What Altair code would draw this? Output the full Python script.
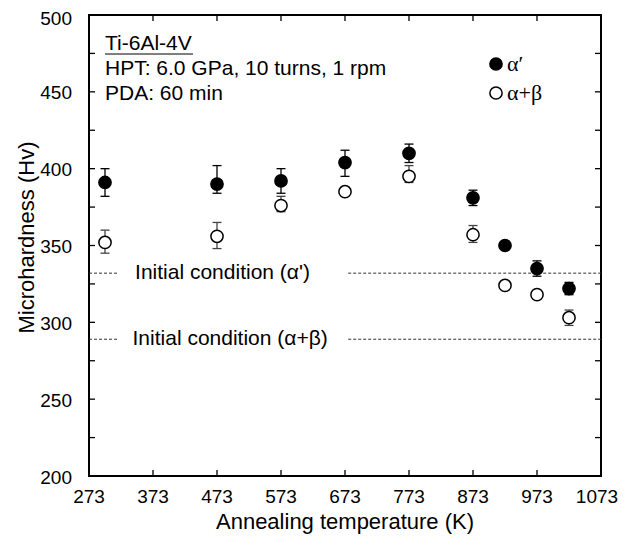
import altair as alt
import pandas as pd

# ---- data ----
temps = [298, 473, 573, 673, 773, 873, 923, 973, 1023]
alpha_p = [391, 390, 392, 404, 410, 381, 350, 335, 322]
alpha_p_lo = [382, 384, 384, 395, 404, 376, 348, 330, 318]
alpha_p_hi = [400, 402, 400, 412, 416, 386, 352, 340, 326]
alpha_b = [352, 356, 376, 385, 395, 357, 324, 318, 303]
alpha_b_lo = [345, 348, 372, 383, 391, 352, 322, 316, 298]
alpha_b_hi = [360, 365, 382, 387, 402, 363, 326, 320, 308]

series_names = ["α′", "α+β"]
x_ticks = [273, 373, 473, 573, 673, 773, 873, 973, 1073]
y_ticks = [200, 225, 250, 275, 300, 325, 350, 375, 400, 425, 450, 475, 500]
y_labels = [200, 250, 300, 350, 400, 450, 500]
x_title = "Annealing temperature (K)"
y_title = "Microhardness (Hv)"

init_vals = [332, 289]
init_texts = ["Initial condition (α')", "Initial condition (α+β)"]
init_text_x = [345, 341]
dash_left = [273, 318]
dash_right = [678, 1073]

info_lines = ["Ti-6Al-4V", "HPT: 6.0 GPa, 10 turns, 1 rpm", "PDA: 60 min"]

FONT = "Liberation Sans"
SERIF = "Liberation Serif"
W, H = 512, 461

rows = []
for i, t in enumerate(temps):
    rows.append({"series": series_names[0], "T": t, "H": alpha_p[i], "lo": alpha_p_lo[i], "hi": alpha_p_hi[i]})
for i, t in enumerate(temps):
    rows.append({"series": series_names[1], "T": t, "H": alpha_b[i], "lo": alpha_b_lo[i], "hi": alpha_b_hi[i]})
df = pd.DataFrame(rows)

caps = pd.concat([
    df[["series", "T", "lo"]].rename(columns={"lo": "v"}),
    df[["series", "T", "hi"]].rename(columns={"hi": "v"}),
])

seg_rows = []
for v in init_vals:
    seg_rows.append({"y": v, "x1": dash_left[0], "x2": dash_left[1]})
    seg_rows.append({"y": v, "x1": dash_right[0], "x2": dash_right[1]})
segs = pd.DataFrame(seg_rows)
init_df = pd.DataFrame({"y": init_vals, "x": init_text_x, "txt": init_texts})

xscale = alt.Scale(domain=[273, 1073], nice=False, zero=False)
yscale = alt.Scale(domain=[200, 500], nice=False, zero=False)
err_color = alt.Color("series:N", scale=alt.Scale(domain=series_names, range=["black", "#444444"]), legend=None)
pt_fill = alt.Fill("series:N", scale=alt.Scale(domain=series_names, range=["black", "white"]), legend=None)

pts = alt.Chart(df).mark_circle(size=150, stroke="black", strokeWidth=1.5, opacity=1).encode(
    x=alt.X("T:Q", scale=xscale, axis=None),
    y=alt.Y("H:Q", scale=yscale, axis=None),
    fill=pt_fill,
)

dashes = alt.Chart(segs).mark_rule(strokeDash=[3, 2], strokeWidth=1, color="#333333").encode(
    x=alt.X("x1:Q", scale=xscale, axis=None), x2="x2:Q", y=alt.Y("y:Q", scale=yscale, axis=None))

init_txt = alt.Chart(init_df).mark_text(align="left", baseline="middle", font=FONT, fontSize=21,
                                        color="black").encode(
    x=alt.X("x:Q", scale=xscale, axis=None), y=alt.Y("y:Q", scale=yscale, axis=None), text="txt:N")

err = alt.Chart(df).mark_rule(strokeWidth=1.3).encode(
    x=alt.X("T:Q", scale=xscale, axis=None), y=alt.Y("lo:Q", scale=yscale, axis=None), y2="hi:Q",
    color=err_color)

cap = alt.Chart(caps).mark_tick(orient="horizontal", size=9, thickness=1.3, opacity=1).encode(
    x=alt.X("T:Q", scale=xscale, axis=None), y=alt.Y("v:Q", scale=yscale, axis=None), color=err_color)

# manual legend (symbols + serif labels), values from series_names
leg_y = [49, 78]
leg_layers = []
for i, name in enumerate(series_names):
    leg_layers.append(alt.Chart(pd.DataFrame({"series": [name]})).mark_circle(
        size=150, stroke="black", strokeWidth=1.5, opacity=1).encode(
        x=alt.value(407), y=alt.value(leg_y[i]), fill=pt_fill))
    leg_layers.append(alt.Chart(pd.DataFrame({"series": [name]})).mark_text(
        align="left", baseline="middle", font=SERIF, fontSize=22, color="black").encode(
        x=alt.value(418), y=alt.value(leg_y[i]), text="series:N"))

info_y = [29, 54, 79]
info_layers = []
for i, line in enumerate(info_lines):
    info_layers.append(alt.Chart(pd.DataFrame({"txt": [line]})).mark_text(
        align="left", baseline="middle", font=FONT, fontSize=21, color="black").encode(
        x=alt.value(16), y=alt.value(info_y[i]), text="txt:N"))
underline = alt.Chart(pd.DataFrame({"a": [0]})).mark_rule(color="black", strokeWidth=1).encode(
    x=alt.value(16), x2=alt.value(104), y=alt.value(39))

xt = pd.DataFrame({"t": x_ticks})
yt = pd.DataFrame({"t": y_ticks})
xt_bot = alt.Chart(xt).mark_rule(color="black", strokeWidth=1.3).encode(
    x=alt.X("t:Q", scale=xscale, axis=None), y=alt.value(H), y2=alt.value(H - 6))
xt_top = alt.Chart(xt).mark_rule(color="black", strokeWidth=1.3).encode(
    x=alt.X("t:Q", scale=xscale, axis=None), y=alt.value(0), y2=alt.value(6))
yt_left = alt.Chart(yt).mark_rule(color="black", strokeWidth=1.3).encode(
    y=alt.Y("t:Q", scale=yscale, axis=None), x=alt.value(0), x2=alt.value(6))
yt_right = alt.Chart(yt).mark_rule(color="black", strokeWidth=1.3).encode(
    y=alt.Y("t:Q", scale=yscale, axis=None), x=alt.value(W), x2=alt.value(W - 6))

# axis labels and titles as text marks, placed through the scales
x_lab = alt.Chart(pd.DataFrame({"t": x_ticks[:-1]})).mark_text(
    align="center", baseline="middle", font=FONT, fontSize=19, color="black").encode(
    x=alt.X("t:Q", scale=xscale, axis=None), y=alt.value(H + 21), text="t:Q")
x_lab_last = alt.Chart(pd.DataFrame({"t": x_ticks[-1:]})).mark_text(
    align="center", baseline="middle", font=FONT, fontSize=19, color="black", dx=-4).encode(
    x=alt.X("t:Q", scale=xscale, axis=None), y=alt.value(H + 21), text="t:Q")
y_lab = alt.Chart(pd.DataFrame({"t": y_labels[:-1]})).mark_text(
    align="right", baseline="middle", font=FONT, fontSize=19, color="black", dy=1.5).encode(
    y=alt.Y("t:Q", scale=yscale, axis=None), x=alt.value(-17), text="t:Q")
y_lab_top = alt.Chart(pd.DataFrame({"t": y_labels[-1:]})).mark_text(
    align="right", baseline="middle", font=FONT, fontSize=19, color="black", dy=3.5).encode(
    y=alt.Y("t:Q", scale=yscale, axis=None), x=alt.value(-17), text="t:Q")
x_tt = alt.Chart(pd.DataFrame({"txt": [x_title]})).mark_text(
    align="center", baseline="middle", font=FONT, fontSize=22, color="black").encode(
    x=alt.value(W / 2), y=alt.value(H + 46), text="txt:N")
y_tt = alt.Chart(pd.DataFrame({"txt": [y_title]})).mark_text(
    align="center", baseline="middle", font=FONT, fontSize=22, color="black", angle=270).encode(
    x=alt.value(-62), y=alt.value(H / 2 - 8), text="txt:N")

chart = alt.layer(dashes, init_txt, err, cap, pts, *leg_layers, *info_layers, underline,
                  xt_bot, xt_top, yt_left, yt_right, x_lab, x_lab_last, y_lab, y_lab_top,
                  x_tt, y_tt).properties(
    width=W, height=H, autosize="none", background="white",
    padding={"left": 81, "top": 7, "right": 17, "bottom": 62},
).configure_view(stroke="black", strokeWidth=2)

chart.save("out.html", embed_options={"renderer": "svg", "actions": False})
